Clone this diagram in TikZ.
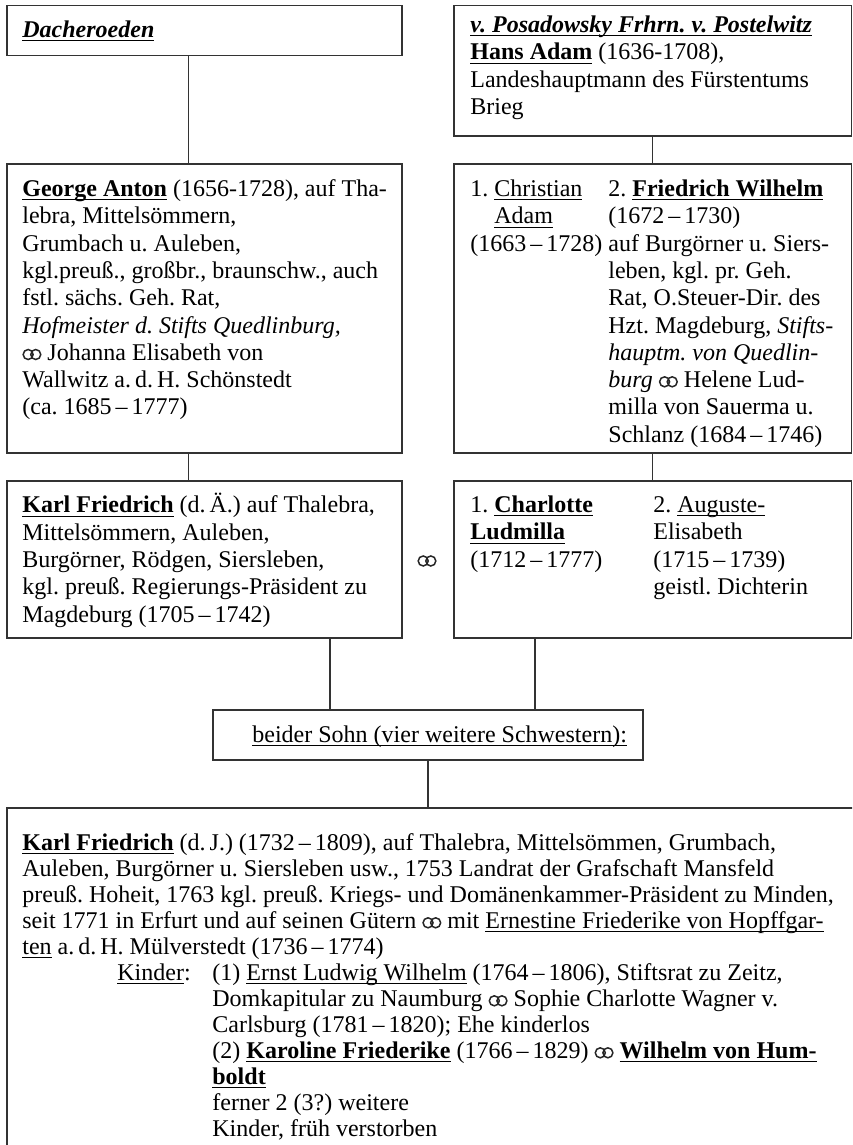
\documentclass[tikz,border=0pt]{standalone}
\usepackage{fontspec}
\setmainfont{Liberation Serif}
\usetikzlibrary{positioning}
\newcommand\ehe{\tikz[baseline=0pt, x=1pt, y=1pt]\draw[line width=0.75pt, black!85] (2.9,2.9) circle[radius=2.5] (6.7,2.9) circle[radius=2.5];}
\newcommand\unter[1]{\leavevmode\setbox0\hbox{#1}\rlap{\rule[-1.9pt]{\wd0}{0.55pt}}\box0\relax}
\newcommand\ubf[1]{\unter{\textbf{#1}}}
\frenchspacing

\begin{document}
\frenchspacing
\begin{tikzpicture}[x=0.5pt, y=-0.5pt,
    fambox/.style={draw=black!80, line width=0.75pt, rectangle, inner sep=0pt, anchor=north west},
    famtext/.style={anchor=north west, inner sep=0pt, align=left, font=\fontsize{12}{13.65}\selectfont},
    kidtext/.style={anchor=north west, inner sep=0pt, align=left, font=\fontsize{12}{13}\selectfont},
    link/.style={draw=black!80, line width=0.75pt}]
	\clip (0,0) rectangle (852,1145);
	% boxes
	\node[fambox, minimum width=197.5pt, minimum height=25pt] (dach) at (6,5) {};
	\node[fambox, minimum width=198.75pt, minimum height=65pt] (posa) at (453,5) {};
	\node[fambox, minimum width=197.5pt, minimum height=144.5pt] (george) at (6,163) {};
	\node[fambox, minimum width=198.75pt, minimum height=144.5pt] (fwilh) at (453,163) {};
	\node[fambox, minimum width=197.5pt, minimum height=78.5pt] (karl) at (6,480) {};
	\node[fambox, minimum width=198.75pt, minimum height=78.5pt] (frau) at (453,480) {};
	\node[fambox, minimum width=215pt, minimum height=25pt] (sohn) at (212,709) {};
	\node[fambox, minimum width=450pt, minimum height=200pt] (karljr) at (6,807) {};
	\node[inner sep=0pt] (ehe) at (427,561) {\ehe};
	% texts
	\node[famtext] (tdach) at (22,18) {\strut\unter{\textbf{\textit{Dacheroeden}}}};
	\node[famtext] (tposa) at (470,13) {\strut\unter{\textbf{\textit{v. Posadowsky Frhrn. v. Postelwitz}}}\\
		\ubf{Hans Adam} (1636-1708),\\
		Landeshauptmann des Fürstentums\\
		Brieg};
	\node[famtext] (tgeorge) at (22,177) {\strut\ubf{George Anton} (1656-1728), auf Tha-\\
		lebra, Mittelsömmern,\\
		Grumbach u. Auleben,\\
		kgl.preuß., großbr., braunschw., auch\\
		fstl. sächs. Geh. Rat,\\
		\textit{Hofmeister d. Stifts Quedlinburg,}\\
		\ehe{} Johanna Elisabeth von\\
		Wallwitz a.\,d.\,H. Schönstedt\\
		(ca. 1685\,--\,1777)};
	\node[famtext] (tchrist) at (470,177) {\strut1. \unter{Christian}\\
		\hphantom{1. }\unter{Adam}\\
		(1663\,--\,1728)};
	\node[famtext] (tfwilh) at (608,177) {\strut2. \ubf{Friedrich Wilhelm}\\
		(1672\,--\,1730)\\
		auf Burgörner u. Siers-\\
		leben, kgl. pr. Geh.\\
		Rat, O.Steuer-Dir. des\\
		Hzt. Magdeburg, \textit{Stifts-}\\
		\textit{hauptm. von Quedlin-}\\
		\textit{burg} \ehe{} Helene Lud-\\
		milla von Sauerma u.\\
		Schlanz (1684\,--\,1746)};
	\node[famtext] (tkarl) at (22,493) {\strut\ubf{Karl Friedrich} (d.\,Ä.) auf Thalebra,\\
		Mittelsömmern, Auleben,\\
		Burgörner, Rödgen, Siersleben,\\
		kgl. preuß. Regierungs-Präsident zu\\
		Magdeburg (1705\,--\,1742)};
	\node[famtext] (tcharl) at (470,493) {\strut1. \ubf{Charlotte}\\
		\ubf{Ludmilla}\\
		(1712\,--\,1777)};
	\node[famtext] (tauguste) at (653,493) {\strut2. \unter{Auguste-}\\
		Elisabeth\\
		(1715\,--\,1739)\\
		geistl. Dichterin};
	\node[famtext] (tsohn) at (252,723) {\strut\unter{beider Sohn (vier weitere Schwestern):}};
	\node[kidtext] (tkarljr) at (22,832) {\strut\ubf{Karl Friedrich} (d.\,J.) (1732\,--\,1809), auf Thalebra, Mittelsömmen, Grumbach,\\
		Auleben, Burgörner u. Siersleben usw., 1753 Landrat der Grafschaft Mansfeld\\
		preuß. Hoheit, 1763 kgl. preuß. Kriegs- und Domänenkammer-Präsident zu Minden,\\
		seit 1771 in Erfurt und auf seinen Gütern \ehe{} mit \unter{Ernestine Friederike von Hopffgar-}\\
		\unter{ten} a.\,d.\,H. Mülverstedt (1736\,--\,1774)};
	\node[kidtext] (tkinder) at (117,962) {\strut\unter{Kinder}:};
	\node[kidtext] (tkids) at (212,962) {\strut(1) \unter{Ernst Ludwig Wilhelm} (1764\,--\,1806), Stiftsrat zu Zeitz,\\
		Domkapitular zu Naumburg \ehe{} Sophie Charlotte Wagner v.\\
		Carlsburg (1781\,--\,1820); Ehe kinderlos\\
		(2) \ubf{Karoline Friederike} (1766\,--\,1829) \ehe{} \ubf{Wilhelm von Hum-}\\
		\ubf{boldt}\\
		ferner 2 (3?) weitere\\
		Kinder, früh verstorben};
	% connectors
	\draw[link] ([xshift=-8pt]dach.south) -- ([xshift=-8pt]dach.south |- george.north);
	\draw[link] (posa.south) -- (fwilh.north);
	\draw[link] ([xshift=-8pt]george.south) -- ([xshift=-8pt]george.south |- karl.north);
	\draw[link] (fwilh.south) -- (frau.north);
	\draw[link] ([xshift=-49pt]sohn.north) -- ([xshift=-49pt]sohn.north |- karl.south);
	\draw[link] ([xshift=53.5pt]sohn.north) -- ([xshift=53.5pt]sohn.north |- frau.south);
	\draw[link] (sohn.south) -- (sohn.south |- karljr.north);
\end{tikzpicture}
\end{document}
